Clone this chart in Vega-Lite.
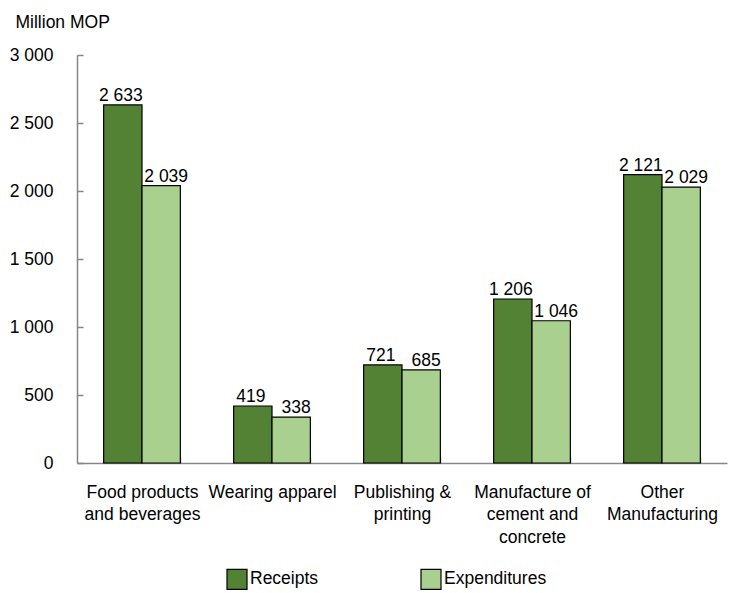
{
  "$schema": "https://vega.github.io/schema/vega-lite/v6.json",
  "width": 650,
  "height": 408,
  "autosize": {"type": "none"},
  "padding": {"left": 77, "top": 55, "right": 8, "bottom": 130},
  "background": "white",
  "config": {
    "locale": {"number": {"decimal": ".", "thousands": " ", "grouping": [3], "currency": ["", ""]}},
    "font": "Liberation Sans",
    "view": {"stroke": null},
    "axis": {"labelFont": "Liberation Sans", "titleFont": "Liberation Sans", "labelFontSize": 17.5, "titleFontSize": 17.5, "labelColor": "black", "titleColor": "black", "titleFontWeight": "normal", "domainColor": "#868686", "tickColor": "#868686", "domainWidth": 1.5, "tickWidth": 1.5, "grid": false},
    "legend": {"labelFont": "Liberation Sans", "labelFontSize": 17.5, "labelColor": "black"}
  },
  "data": {
    "values": [
      {"category": "Food products and beverages", "series": "Receipts", "value": 2633},
      {"category": "Food products and beverages", "series": "Expenditures", "value": 2039},
      {"category": "Wearing apparel", "series": "Receipts", "value": 419},
      {"category": "Wearing apparel", "series": "Expenditures", "value": 338},
      {"category": "Publishing & printing", "series": "Receipts", "value": 721},
      {"category": "Publishing & printing", "series": "Expenditures", "value": 685},
      {"category": "Manufacture of cement and concrete", "series": "Receipts", "value": 1206},
      {"category": "Manufacture of cement and concrete", "series": "Expenditures", "value": 1046},
      {"category": "Other Manufacturing", "series": "Receipts", "value": 2121},
      {"category": "Other Manufacturing", "series": "Expenditures", "value": 2029}
    ]
  },
  "encoding": {
    "x": {
      "field": "category", "type": "nominal", "sort": null,
      "scale": {"paddingInner": 0.41, "paddingOuter": 0.205},
      "axis": {
        "title": null, "labelAngle": 0, "tickBand": "extent", "tickSize": -6, "labelPadding": 26,
        "labelLineHeight": 22.5, "labelBaseline": "top",
        "labelExpr": "datum.label == 'Food products and beverages' ? ['Food products', 'and beverages'] : datum.label == 'Publishing & printing' ? ['Publishing &', 'printing'] : datum.label == 'Manufacture of cement and concrete' ? ['Manufacture of', 'cement and', 'concrete'] : datum.label == 'Other Manufacturing' ? ['Other', 'Manufacturing'] : datum.label"
      }
    },
    "xOffset": {"field": "series", "type": "nominal", "sort": ["Receipts", "Expenditures"], "scale": {"paddingInner": 0, "paddingOuter": 0}},
    "y": {
      "field": "value", "type": "quantitative",
      "scale": {"domain": [0, 3000], "nice": false},
      "axis": {
        "title": "Million MOP", "titleAngle": 0, "titleAlign": "left", "titleBaseline": "alphabetic", "titleX": -62, "titleY": -28,
        "values": [0, 500, 1000, 1500, 2000, 2500, 3000], "format": ",.0f", "tickSize": -6, "labelPadding": 30
      }
    }
  },
  "layer": [
    {
      "mark": {"type": "bar", "stroke": "black", "strokeWidth": 1.2},
      "encoding": {
        "color": {
          "field": "series", "type": "nominal",
          "scale": {"domain": ["Receipts", "Expenditures"], "range": ["#548235", "#A9D08E"]},
          "legend": {
            "title": null, "orient": "none", "direction": "horizontal", "legendX": 149, "legendY": 513,
            "symbolType": "square", "symbolSize": 400, "symbolStrokeColor": "black", "symbolStrokeWidth": 1.2,
            "symbolOpacity": 1, "labelOffset": 2, "columnPadding": 99
          }
        }
      }
    },
    {
      "transform": [{"filter": "datum.series == 'Receipts'"}],
      "mark": {"type": "text", "baseline": "alphabetic", "dy": -4, "dx": -2, "fontSize": 17.5, "color": "black"},
      "encoding": {"text": {"field": "value", "type": "quantitative", "format": ",.0f"}}
    },
    {
      "transform": [{"filter": "datum.series == 'Expenditures'"}],
      "mark": {"type": "text", "baseline": "alphabetic", "dy": -4, "dx": 5, "fontSize": 17.5, "color": "black"},
      "encoding": {"text": {"field": "value", "type": "quantitative", "format": ",.0f"}}
    }
  ]
}
